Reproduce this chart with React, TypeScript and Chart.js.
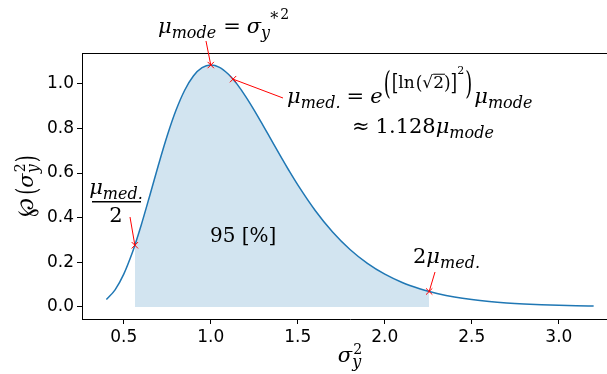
import React, { useEffect, useRef } from "react";
import { Chart, registerables } from "chart.js";

Chart.register(...registerables);

// ---- data ----
const xs = [0.40, 0.45, 0.50, 0.55, 0.5638, 0.60, 0.65, 0.70, 0.75, 0.80, 0.85, 0.90, 0.95, 1.00, 1.05, 1.10, 1.128, 1.15, 1.20, 1.25, 1.30, 1.35, 1.40, 1.45, 1.50, 1.60, 1.70, 1.80, 1.90, 2.00, 2.10, 2.20, 2.255, 2.30, 2.40, 2.50, 2.60, 2.70, 2.80, 2.90, 3.00, 3.10, 3.20];
const pdf = [0.0329, 0.0763, 0.1467, 0.2448, 0.2763, 0.3659, 0.5007, 0.6383, 0.7681, 0.8811, 0.9712, 1.0351, 1.0722, 1.0840, 1.0733, 1.0438, 1.0208, 0.9994, 0.9439, 0.8811, 0.8139, 0.7451, 0.6766, 0.6102, 0.5468, 0.4322, 0.3357, 0.2573, 0.1951, 0.1467, 0.1096, 0.0815, 0.0691, 0.0604, 0.0446, 0.0329, 0.0242, 0.0178, 0.0131, 0.0097, 0.0071, 0.0053, 0.0039];
const bandStart = 0.5638;
const bandEnd = 2.255;
const markX = [0.5638, 1.0, 1.128, 2.255];
const markY = [0.2763, 1.084, 1.0208, 0.0691];
const xTicks = [0.5, 1.0, 1.5, 2.0, 2.5, 3.0];
const yTicks = [0.0, 0.2, 0.4, 0.6, 0.8, 1.0];

const W = 640;
const H = 374;
const SERIF = "'DejaVu Serif'";

type Run = { t: string; s: number; it?: boolean; dy?: number; gap?: number; sy?: number; ov?: boolean; fam?: string };

function fontOf(r: Run) {
  return `${r.it ? "italic " : ""}${r.s}px ${r.fam || SERIF}`;
}
function runsWidth(ctx: CanvasRenderingContext2D, runs: Run[]) {
  let w = 0;
  for (const r of runs) {
    ctx.font = fontOf(r);
    w += ctx.measureText(r.t).width + (r.gap || 0);
  }
  return w;
}
function drawRuns(ctx: CanvasRenderingContext2D, x: number, y: number, runs: Run[]) {
  let cx = x;
  ctx.textAlign = "left";
  ctx.textBaseline = "alphabetic";
  for (const r of runs) {
    ctx.font = fontOf(r);
    const w = ctx.measureText(r.t).width;
    ctx.save();
    ctx.translate(cx, y + (r.dy || 0));
    if (r.sy) ctx.scale(1, r.sy);
    ctx.fillText(r.t, 0, 0);
    ctx.restore();
    if (r.ov) ctx.fillRect(cx, y + (r.dy || 0) - r.s * 0.84, w + 1, 1);
    cx += w + (r.gap || 0);
  }
  return cx;
}

const annotPlugin = {
  id: "annot",
  afterDatasetsDraw(chart: any) {
    const ctx: CanvasRenderingContext2D = chart.ctx;
    const xs_ = chart.scales.x;
    const ys_ = chart.scales.y;
    const a = chart.chartArea;
    ctx.save();
    // top & right spines
    ctx.strokeStyle = "#000";
    ctx.lineWidth = 1;
    ctx.beginPath();
    ctx.moveTo(a.left, Math.round(a.top) + 0.5);
    ctx.lineTo(a.right, Math.round(a.top) + 0.5);
    ctx.moveTo(Math.round(a.right) + 0.5, a.top);
    ctx.lineTo(Math.round(a.right) + 0.5, a.bottom);
    ctx.stroke();

    // arrows (red lines) from text to marked points
    const tails = [
      [130, 217],
      [206, 41],
      [283, 98],
      [435, 272],
    ];
    ctx.strokeStyle = "red";
    ctx.lineWidth = 1;
    for (let i = 0; i < markX.length; i++) {
      ctx.beginPath();
      ctx.moveTo(tails[i][0], tails[i][1]);
      ctx.lineTo(xs_.getPixelForValue(markX[i]), ys_.getPixelForValue(markY[i]));
      ctx.stroke();
    }

    ctx.fillStyle = "#000";
    const M = 21;
    const SB = 16;
    // mu_mode = sigma_y*^2
    drawRuns(ctx, 158, 33, [
      { t: "μ", s: M, it: true },
      { t: "mode", s: SB, it: true, dy: 5, gap: 7 },
      { t: "=", s: M, gap: 6 },
      { t: "σ", s: M, it: true },
      { t: "y", s: SB, it: true, dy: 5, gap: 0 },
      { t: "*", s: SB, dy: -9, gap: 2 },
      { t: "2", s: 14, dy: -14 },
    ]);
    // mu_med. = e^(...) mu_mode
    drawRuns(ctx, 287, 103, [
      { t: "μ", s: M, it: true },
      { t: "med.", s: SB, it: true, dy: 5, gap: 6 },
      { t: "=", s: M, gap: 6 },
      { t: "e", s: M, it: true, gap: 1 },
      { t: "(", s: 18, sy: 1.75, dy: -9, gap: 1 },
      { t: "[", s: 17, sy: 1.3, dy: -13 },
      { t: "ln", s: 17, dy: -15, gap: 1 },
      { t: "(", s: 17, sy: 1.1, dy: -14 },
      { t: "√", s: 17, dy: -15 },
      { t: "2", s: 17, dy: -15, ov: true },
      { t: ")", s: 17, sy: 1.1, dy: -14 },
      { t: "]", s: 17, sy: 1.3, dy: -13 },
      { t: "2", s: 11, dy: -29, gap: 1 },
      { t: ")", s: 18, sy: 1.75, dy: -9, gap: 2 },
      { t: "μ", s: M, it: true },
      { t: "mode", s: SB, it: true, dy: 5 },
    ]);
    drawRuns(ctx, 352, 133, [
      { t: "≈", s: M, gap: 6 },
      { t: "1.128", s: M },
      { t: "μ", s: M, it: true },
      { t: "mode", s: SB, it: true, dy: 5 },
    ]);
    // 2 mu_med.
    drawRuns(ctx, 413, 263, [
      { t: "2", s: M },
      { t: "μ", s: M, it: true },
      { t: "med.", s: SB, it: true, dy: 5 },
    ]);
    // fraction mu_med. / 2
    const num: Run[] = [
      { t: "μ", s: M, it: true },
      { t: "med.", s: SB, it: true, dy: 5 },
    ];
    const nw = runsWidth(ctx, num);
    drawRuns(ctx, 116 - nw / 2, 194, num);
    ctx.fillRect(92, 201, 49, 1.5);
    const den: Run[] = [{ t: "2", s: M }];
    drawRuns(ctx, 116 - runsWidth(ctx, den) / 2, 222, den);
    // 95 [%]
    drawRuns(ctx, 210, 242, [{ t: "95 [%]", s: 20 }]);

    // x label
    const xl: Run[] = [
      { t: "σ", s: M, it: true },
      { t: "y", s: SB, it: true, dy: 5, gap: -8 },
      { t: "2", s: 14, dy: -8 },
    ];
    drawRuns(ctx, 350 - runsWidth(ctx, xl) / 2, 362, xl);

    // y label (rotated)
    const yl: Run[] = [
      { t: "℘", s: 23, gap: 3 },
      { t: "(", s: 18, sy: 1.5, dy: 3 },
      { t: "σ", s: M, it: true },
      { t: "y", s: SB, it: true, dy: 5, gap: -8 },
      { t: "2", s: 14, dy: -8, gap: 1 },
      { t: ")", s: 18, sy: 1.5, dy: 3 },
    ];
    ctx.save();
    ctx.translate(33, 186);
    ctx.rotate(-Math.PI / 2);
    drawRuns(ctx, -runsWidth(ctx, yl) / 2, 0, yl);
    ctx.restore();

    ctx.restore();
  },
};

export default function App() {
  const ref = useRef<HTMLCanvasElement>(null);
  useEffect(() => {
    if (!ref.current) return;
    const curve = xs.map((x, i) => ({ x, y: pdf[i] }));
    const band = curve.filter((p) => p.x >= bandStart - 1e-9 && p.x <= bandEnd + 1e-9);
    const marks = markX.map((x, i) => ({ x, y: markY[i] }));
    const chart = new Chart(ref.current, {
      type: "scatter",
      data: {
        datasets: [
          {
            data: marks,
            showLine: false,
            pointStyle: "crossRot",
            pointRadius: 4.5,
            borderColor: "red",
            backgroundColor: "red",
            pointBorderWidth: 1,
          } as any,
          {
            data: curve,
            showLine: true,
            borderColor: "#1f77b4",
            borderWidth: 1.5,
            pointRadius: 0,
            cubicInterpolationMode: "monotone",
            fill: false,
          } as any,
          {
            data: band,
            showLine: true,
            borderWidth: 0,
            borderColor: "rgba(0,0,0,0)",
            backgroundColor: "rgba(31,119,180,0.2)",
            pointRadius: 0,
            cubicInterpolationMode: "monotone",
            fill: "origin",
          } as any,
        ],
      },
      options: {
        animation: false,
        responsive: false,
        maintainAspectRatio: false,
        layout: { padding: { left: 0, top: 53, right: W - 618, bottom: 0 } },
        plugins: { legend: { display: false }, tooltip: { enabled: false } },
        scales: {
          x: {
            type: "linear",
            min: 0.26,
            max: 3.34,
            afterBuildTicks: (s: any) => {
              s.ticks = xTicks.map((v) => ({ value: v }));
            },
            afterFit: (s: any) => {
              s.height = H - 319;
            },
            grid: { display: true, drawOnChartArea: false, drawTicks: true, tickLength: 5, color: "#000", lineWidth: 1 },
            border: { display: true, color: "#000", width: 1 },
            ticks: {
              color: "#000",
              font: { family: "'DejaVu Sans'", size: 17 },
              padding: 3,
              maxRotation: 0,
              autoSkip: false,
              callback: (v: any) => Number(v).toFixed(1),
            },
          },
          y: {
            type: "linear",
            min: -0.0542,
            max: 1.138,
            afterBuildTicks: (s: any) => {
              s.ticks = yTicks.map((v) => ({ value: v }));
            },
            afterFit: (s: any) => {
              s.width = 82;
            },
            grid: { display: true, drawOnChartArea: false, drawTicks: true, tickLength: 5, color: "#000", lineWidth: 1 },
            border: { display: true, color: "#000", width: 1 },
            ticks: {
              color: "#000",
              font: { family: "'DejaVu Sans'", size: 17 },
              padding: 3,
              autoSkip: false,
              callback: (v: any) => Number(v).toFixed(1),
            },
          },
        },
      },
      plugins: [annotPlugin],
    } as any);
    return () => chart.destroy();
  }, []);
  return (
    <div style={{ position: "absolute", left: 0, top: 0, width: 607, height: 374, overflow: "hidden", background: "#fff" }}>
      <canvas ref={ref} width={W} height={H} style={{ display: "block", width: W, height: H }} />
    </div>
  );
}
